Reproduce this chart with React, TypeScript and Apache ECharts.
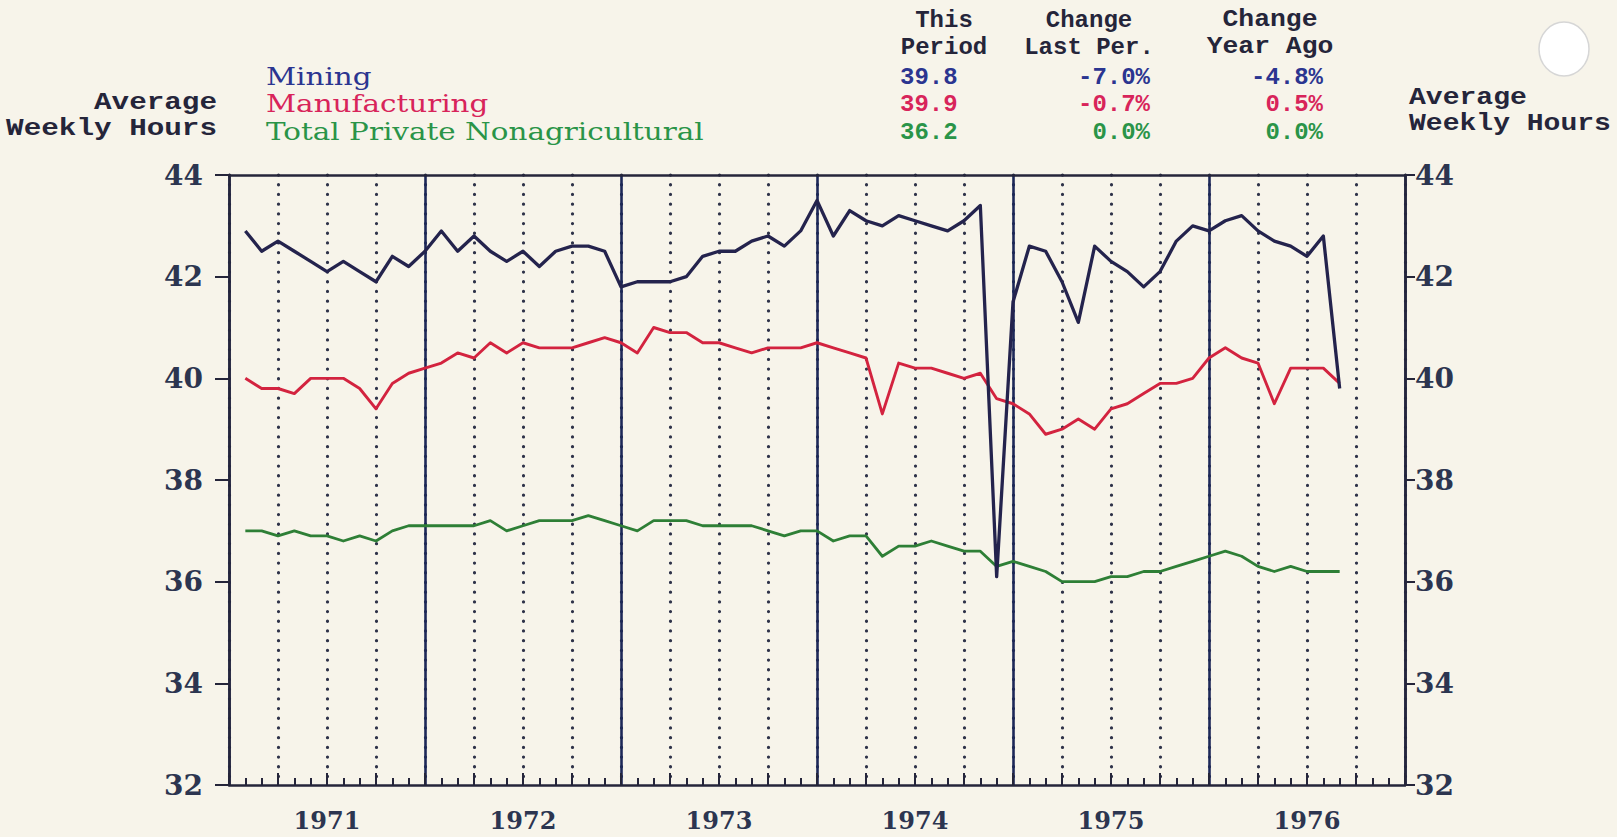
import React, { useEffect, useRef } from "react";
import * as echarts from "echarts";

// Monthly data, Jan 1971 (month 1) .. Aug 1976 (month 68)
const mining = [
  42.9, 42.5, 42.7, 42.5, 42.3, 42.1, 42.3, 42.1, 41.9, 42.4, 42.2, 42.5,
  42.9, 42.5, 42.8, 42.5, 42.3, 42.5, 42.2, 42.5, 42.6, 42.6, 42.5, 41.8,
  41.9, 41.9, 41.9, 42.0, 42.4, 42.5, 42.5, 42.7, 42.8, 42.6, 42.9, 43.5,
  42.8, 43.3, 43.1, 43.0, 43.2, 43.1, 43.0, 42.9, 43.1, 43.4, 36.1, 41.5,
  42.6, 42.5, 41.9, 41.1, 42.6, 42.3, 42.1, 41.8, 42.1, 42.7, 43.0, 42.9,
  43.1, 43.2, 42.9, 42.7, 42.6, 42.4, 42.8, 39.8,
];
const manufacturing = [
  40.0, 39.8, 39.8, 39.7, 40.0, 40.0, 40.0, 39.8, 39.4, 39.9, 40.1, 40.2,
  40.3, 40.5, 40.4, 40.7, 40.5, 40.7, 40.6, 40.6, 40.6, 40.7, 40.8, 40.7,
  40.5, 41.0, 40.9, 40.9, 40.7, 40.7, 40.6, 40.5, 40.6, 40.6, 40.6, 40.7,
  40.6, 40.5, 40.4, 39.3, 40.3, 40.2, 40.2, 40.1, 40.0, 40.1, 39.6, 39.5,
  39.3, 38.9, 39.0, 39.2, 39.0, 39.4, 39.5, 39.7, 39.9, 39.9, 40.0, 40.4,
  40.6, 40.4, 40.3, 39.5, 40.2, 40.2, 40.2, 39.9,
];
const totalPrivate = [
  37.0, 37.0, 36.9, 37.0, 36.9, 36.9, 36.8, 36.9, 36.8, 37.0, 37.1, 37.1,
  37.1, 37.1, 37.1, 37.2, 37.0, 37.1, 37.2, 37.2, 37.2, 37.3, 37.2, 37.1,
  37.0, 37.2, 37.2, 37.2, 37.1, 37.1, 37.1, 37.1, 37.0, 36.9, 37.0, 37.0,
  36.8, 36.9, 36.9, 36.5, 36.7, 36.7, 36.8, 36.7, 36.6, 36.6, 36.3, 36.4,
  36.3, 36.2, 36.0, 36.0, 36.0, 36.1, 36.1, 36.2, 36.2, 36.3, 36.4, 36.5,
  36.6, 36.5, 36.3, 36.2, 36.3, 36.2, 36.2, 36.2,
];

const years = ["1971", "1972", "1973", "1974", "1975", "1976"];
const seriesNames = ["Mining", "Manufacturing", "Total Private Nonagricultural"];
const thisPeriod = ["39.8", "39.9", "36.2"];
const changeLastPer = ["-7.0%", "-0.7%", "0.0%"];
const changeYearAgo = ["-4.8%", "0.5%", "0.0%"];
const columnHeads = [
  ["This", "Period"],
  ["Change", "Last Per."],
  ["Change", "Year Ago"],
];
const axisTitle = ["Average", "Weekly Hours"];

const Y_MIN = 32;
const Y_MAX = 44;
const Y_STEP = 2;
const X_MAX = 72;

const BG = "#f7f4ea";
const INK = "#25253a";
const NAVY = "#1d2858";
const LINE_COLORS = ["#24234d", "#d3233f", "#2e7f36"];
const TEXT_COLORS = ["#2b3590", "#d8245a", "#2a9448"];

const SERIF = "'DejaVu Serif', 'Liberation Serif', serif";
const MONO = "'Liberation Mono', 'DejaVu Sans Mono', monospace";

function measure(text: string, font: string): number {
  const ctx = document.createElement("canvas").getContext("2d");
  if (!ctx) return text.length * 12;
  ctx.font = font;
  return ctx.measureText(text).width || text.length * 12;
}

export default function App() {
  const ref = useRef<HTMLDivElement>(null);

  useEffect(() => {
    if (!ref.current) return;
    const chart = echarts.init(ref.current, undefined, { renderer: "svg" });

    const toPoints = (arr: number[]) => arr.map((v, i) => [i + 1, v]);

    const rowY = [77, 104, 132];
    const monoStyle = { fontFamily: MONO, fontSize: 24, fontWeight: "bold", fill: INK };
    const graphic: any[] = [];

    // column heads
    const headX = [944, 1089, 1270];
    const headScale = [1, 1, 1.1];
    columnHeads.forEach((pair, c) => {
      pair.forEach((t, r) => {
        graphic.push({
          type: "text",
          x: headX[c],
          y: r === 0 ? 20 : 47,
          scaleX: headScale[c],
          style: { ...monoStyle, text: t, align: "center", verticalAlign: "middle" },
        });
      });
    });

    // legend names (serif), stretched to the original width
    const nameFont = `24px 'DejaVu Serif'`;
    const nameScale = 438 / measure(seriesNames[2], nameFont);
    seriesNames.forEach((name, r) => {
      graphic.push({
        type: "text",
        x: 266,
        y: rowY[r],
        scaleX: nameScale,
        style: {
          text: name,
          fontFamily: SERIF,
          fontSize: 24,
          fill: TEXT_COLORS[r],
          align: "left",
          verticalAlign: "middle",
        },
      });
      graphic.push({
        type: "text",
        x: 900,
        y: rowY[r],
        style: { ...monoStyle, fill: TEXT_COLORS[r], text: thisPeriod[r], align: "left", verticalAlign: "middle" },
      });
      graphic.push({
        type: "text",
        x: 1150,
        y: rowY[r],
        style: { ...monoStyle, fill: TEXT_COLORS[r], text: changeLastPer[r], align: "right", verticalAlign: "middle" },
      });
      graphic.push({
        type: "text",
        x: 1323,
        y: rowY[r],
        style: { ...monoStyle, fill: TEXT_COLORS[r], text: changeYearAgo[r], align: "right", verticalAlign: "middle" },
      });
    });

    // axis titles
    const titleFont = `bold 24px 'Liberation Mono'`;
    const leftScale = 211 / measure(axisTitle[1], titleFont);
    const rightScale = 202 / measure(axisTitle[1], titleFont);
    axisTitle.forEach((t, r) => {
      graphic.push({
        type: "text",
        x: 217,
        y: r === 0 ? 103 : 129,
        scaleX: leftScale,
        style: { ...monoStyle, text: t, align: "right", verticalAlign: "middle" },
      });
      graphic.push({
        type: "text",
        x: 1409,
        y: r === 0 ? 98 : 124,
        scaleX: rightScale,
        style: { ...monoStyle, text: t, align: "left", verticalAlign: "middle" },
      });
    });

    // punch hole
    graphic.push({
      type: "ellipse",
      shape: { cx: 1564, cy: 49, rx: 25, ry: 27 },
      style: { fill: "#ffffff", stroke: "#d6d6d6", lineWidth: 1.5 },
    });

    const baseX = {
      type: "value",
      min: 0,
      max: X_MAX,
      position: "bottom",
      axisLabel: { show: false },
      splitLine: { show: false },
      axisTick: { show: false },
      axisLine: { show: false, onZero: false },
    };

    const option: any = {
      animation: false,
      backgroundColor: BG,
      grid: { left: 229, right: 212, top: 175, bottom: 52, containLabel: false },
      xAxis: [
        {
          ...baseX,
          interval: 1,
          axisLine: { show: true, onZero: false, lineStyle: { color: INK, width: 2.5 } },
          axisTick: { show: true, inside: true, length: 7, lineStyle: { color: INK, width: 2 } },
        },
        {
          ...baseX,
          interval: 3,
          axisTick: { show: true, inside: true, length: 12, lineStyle: { color: INK, width: 2 } },
          splitLine: {
            show: true,
            lineStyle: { color: "#2e3249", width: 3.2, type: [0.1, 9.6], cap: "round" },
          },
        },
        {
          ...baseX,
          interval: 12,
          splitLine: { show: true, lineStyle: { color: NAVY, width: 2.6 } },
        },
        {
          ...baseX,
          interval: 6,
          axisLabel: {
            show: true,
            margin: 23,
            fontFamily: SERIF,
            fontSize: 24,
            fontWeight: "bold",
            color: "#2c3550",
            formatter: (v: number) => (v % 12 === 6 ? years[(v - 6) / 12] : ""),
          },
        },
        {
          ...baseX,
          position: "top",
          axisLine: { show: true, onZero: false, lineStyle: { color: INK, width: 2.5 } },
        },
      ],
      yAxis: [
        {
          type: "value",
          position: "left",
          min: Y_MIN,
          max: Y_MAX,
          interval: Y_STEP,
          axisLine: { show: true, onZero: false, lineStyle: { color: INK, width: 2.5 } },
          axisTick: { show: true, inside: false, length: 14, lineStyle: { color: INK, width: 2 } },
          axisLabel: { margin: 26, fontFamily: SERIF, fontSize: 28, fontWeight: "bold", color: "#2c3550" },
          splitLine: { show: false },
        },
        {
          type: "value",
          position: "right",
          min: Y_MIN,
          max: Y_MAX,
          interval: Y_STEP,
          axisLine: { show: true, onZero: false, lineStyle: { color: INK, width: 2.5 } },
          axisTick: { show: true, inside: false, length: 10, lineStyle: { color: INK, width: 2 } },
          axisLabel: { margin: 10, fontFamily: SERIF, fontSize: 28, fontWeight: "bold", color: "#2c3550" },
          splitLine: { show: false },
        },
      ],
      series: [
        { name: seriesNames[2], data: toPoints(totalPrivate), color: LINE_COLORS[2], width: 2.8 },
        { name: seriesNames[1], data: toPoints(manufacturing), color: LINE_COLORS[1], width: 2.9 },
        { name: seriesNames[0], data: toPoints(mining), color: LINE_COLORS[0], width: 3.3 },
      ].map((s) => ({
        type: "line",
        name: s.name,
        xAxisIndex: 0,
        yAxisIndex: 0,
        data: s.data,
        symbol: "none",
        lineStyle: { color: s.color, width: s.width, join: "round" },
        itemStyle: { color: s.color },
        z: 5,
      })),
      graphic,
    };

    chart.setOption(option);
    return () => chart.dispose();
  }, []);

  return (
    <div
      ref={ref}
      style={{ position: "fixed", left: 0, top: 0, width: 1617, height: 837, background: BG }}
    />
  );
}
